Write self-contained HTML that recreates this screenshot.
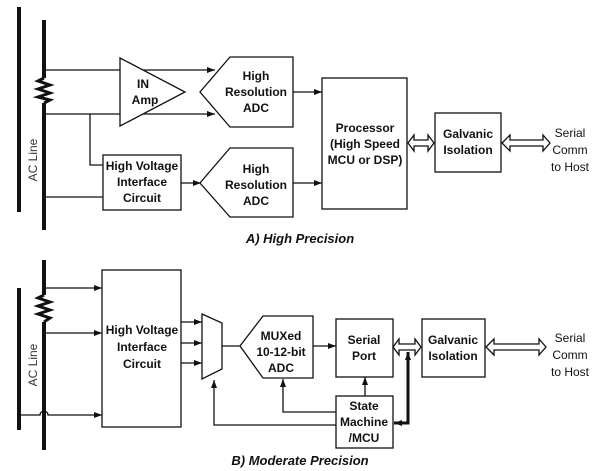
<!DOCTYPE html>
<html><head><meta charset="utf-8"><style>
body{margin:0;background:#fff}
svg{display:block}
text{font-family:"Liberation Sans",sans-serif;fill:#111}
.b{font-weight:bold;font-size:12px}
.n{font-size:12px;fill:#333}
</style></head><body>
<svg width="601" height="471" viewBox="0 0 601 471" xmlns="http://www.w3.org/2000/svg">
<defs>
<marker id="a" markerWidth="8" markerHeight="6" refX="8" refY="3" orient="auto" markerUnits="userSpaceOnUse"><path d="M0,0L8,3L0,6z" fill="#111"/></marker>
</defs>
<g stroke="#111" fill="none" stroke-width="1.3">
<!-- TOP -->
<line x1="19" y1="7" x2="19" y2="212" stroke-width="4"/>
<line x1="44" y1="20" x2="44" y2="78" stroke-width="4"/>
<line x1="44" y1="103" x2="44" y2="230" stroke-width="4"/>
<polyline points="44,78 38,81 50,85 38,89 50,93 38,97 50,100 44,103" stroke-width="3"/>
<line x1="44" y1="70" x2="215" y2="70" marker-end="url(#a)"/>
<line x1="44" y1="114" x2="215" y2="114" marker-end="url(#a)"/>
<polygon points="120,58 185,92 120,126" fill="#fff"/>
<polygon points="230,57 293,57 293,127 230,127 200,92" fill="#fff"/>
<polyline points="90,114 90,165 103,165"/>
<line x1="44" y1="197" x2="103" y2="197"/>
<rect x="103" y="155" width="78" height="55" fill="#fff"/>
<line x1="181" y1="183" x2="201" y2="183" marker-end="url(#a)"/>
<polygon points="230,148 293,148 293,217 230,217 200,183" fill="#fff"/>
<line x1="293" y1="92" x2="322" y2="92" marker-end="url(#a)"/>
<line x1="293" y1="183" x2="322" y2="183" marker-end="url(#a)"/>
<rect x="322" y="78" width="85" height="131"/>
<rect x="435" y="113" width="66" height="59"/>
<polygon points="408,143 414,135 414,140 428,140 428,135 434,143 428,151 428,146 414,146 414,151"/>
<polygon points="502,143 510,135 510,140 543,140 543,135 550,143 543,151 543,146 510,146 510,151"/>
<!-- BOTTOM -->
<line x1="19" y1="288" x2="19" y2="430" stroke-width="4"/>
<line x1="44" y1="260" x2="44" y2="295" stroke-width="4"/>
<line x1="44" y1="322" x2="44" y2="450" stroke-width="4"/>
<polyline points="44,295 38,298 50,302 38,306 50,310 38,314 50,318 44,322" stroke-width="3"/>
<line x1="44" y1="288" x2="102" y2="288" marker-end="url(#a)"/>
<line x1="44" y1="333" x2="102" y2="333" marker-end="url(#a)"/>
<path d="M19,415 L40,415 A4,4 0 0 1 48,415 L102,415" marker-end="url(#a)"/>
<rect x="102" y="270" width="79" height="157"/>
<line x1="181" y1="322" x2="202" y2="322" marker-end="url(#a)"/>
<line x1="181" y1="343" x2="202" y2="343" marker-end="url(#a)"/>
<line x1="181" y1="363" x2="202" y2="363" marker-end="url(#a)"/>
<polygon points="202,314 222,323 222,369 202,379"/>
<line x1="222" y1="346" x2="240" y2="346"/>
<polygon points="263,316 313,316 313,378 263,378 240,346"/>
<line x1="313" y1="346" x2="336" y2="346" marker-end="url(#a)"/>
<rect x="336" y="319" width="57" height="58"/>
<rect x="336" y="396" width="57" height="52"/>
<line x1="365" y1="396" x2="365" y2="377" marker-end="url(#a)"/>
<polyline points="336,412 283,412 283,379" marker-end="url(#a)"/>
<polyline points="336,425 214,425 214,380" marker-end="url(#a)"/>
<polyline points="408,357 408,423 394,423" stroke-width="3" marker-end="url(#a)"/>
<line x1="408" y1="357" x2="408" y2="352" stroke-width="3" marker-end="url(#a)"/>
<rect x="422" y="319" width="63" height="58"/>
<polygon points="393,347 399,339 399,344 415,344 415,339 421,347 415,355 415,350 399,350 399,355" fill="#fff"/>
<polygon points="486,347 494,339 494,344 539,344 539,339 546,347 539,355 539,350 494,350 494,355"/>
</g>
<text x="37" y="160" class="n" transform="rotate(-90 37 160)" text-anchor="middle">AC Line</text>
<text x="37" y="365" class="n" transform="rotate(-90 37 365)" text-anchor="middle">AC Line</text>
<g class="b" text-anchor="middle">
<text x="143" y="88">IN</text><text x="145" y="104">Amp</text>
<text x="256" y="80">High</text><text x="256" y="96">Resolution</text><text x="256" y="112">ADC</text>
<text x="256" y="173">High</text><text x="256" y="189">Resolution</text><text x="256" y="205">ADC</text>
<text x="142" y="170">High Voltage</text><text x="142" y="186">Interface</text><text x="142" y="202">Circuit</text>
<text x="365" y="132">Processor</text><text x="365" y="148">(High Speed</text><text x="365" y="164">MCU or DSP)</text>
<text x="468" y="138">Galvanic</text><text x="468" y="154">Isolation</text>
<text x="142" y="334">High Voltage</text><text x="142" y="351">Interface</text><text x="142" y="368">Circuit</text>
<text x="281" y="340">MUXed</text><text x="281" y="356">10-12-bit</text><text x="281" y="372">ADC</text>
<text x="364" y="344">Serial</text><text x="364" y="360">Port</text>
<text x="453" y="344">Galvanic</text><text x="453" y="360">Isolation</text>
<text x="364" y="410">State</text><text x="364" y="426">Machine</text><text x="364" y="442">/MCU</text>
</g>
<g class="n" text-anchor="middle">
<text x="570" y="137">Serial</text><text x="570" y="154">Comm</text><text x="570" y="171">to Host</text>
<text x="570" y="342">Serial</text><text x="570" y="359">Comm</text><text x="570" y="376">to Host</text>
</g>
<text x="300" y="243" text-anchor="middle" style="font-size:13px;font-weight:bold;font-style:italic">A) High Precision</text>
<text x="300" y="465" text-anchor="middle" style="font-size:13px;font-weight:bold;font-style:italic">B)  Moderate Precision</text>
</svg>
</body></html>
